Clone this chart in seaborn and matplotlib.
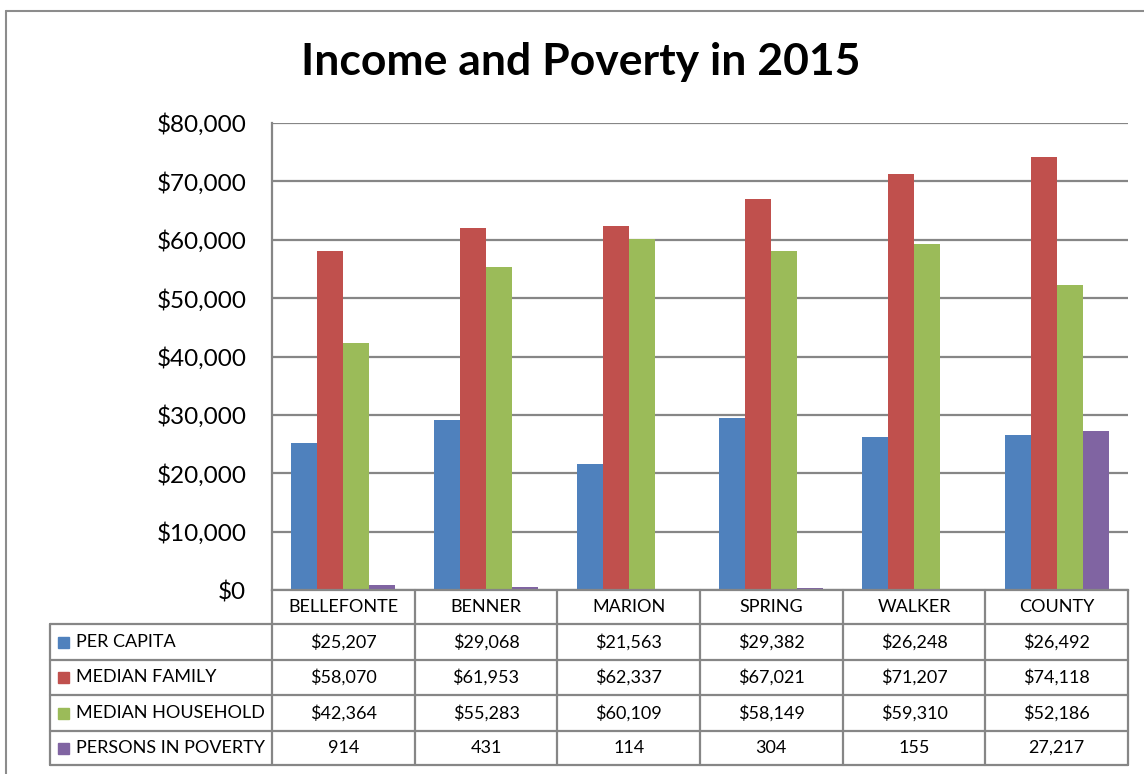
import matplotlib
matplotlib.use("Agg")
import matplotlib.pyplot as plt
from matplotlib.lines import Line2D
from matplotlib.patches import Rectangle
import matplotlib.transforms as mtransforms
from matplotlib.ticker import FuncFormatter, MultipleLocator
import seaborn as sns
import pandas as pd

categories = ["BELLEFONTE", "BENNER", "MARION", "SPRING", "WALKER", "COUNTY"]
series_names = ["PER CAPITA", "MEDIAN FAMILY", "MEDIAN HOUSEHOLD", "PERSONS IN POVERTY"]
per_capita = [25207, 29068, 21563, 29382, 26248, 26492]
median_family = [58070, 61953, 62337, 67021, 71207, 74118]
median_household = [42364, 55283, 60109, 58149, 59310, 52186]
persons_in_poverty = [914, 431, 114, 304, 155, 27217]
colors = ["#4F81BD", "#C0504D", "#9BBB59", "#8064A2"]
title = "Income and Poverty in 2015"

series_values = [per_capita, median_family, median_household, persons_in_poverty]
rows = []
for name, vals in zip(series_names, series_values):
    for c, v in zip(categories, vals):
        rows.append({"category": c, "series": name, "value": v})
df = pd.DataFrame(rows)

sns.set_theme(style="white")
plt.rcParams["font.family"] = ["Lato", "DejaVu Sans"]
plt.rcParams["text.color"] = "black"
plt.rcParams["ytick.color"] = "black"

W, H = 1144, 774
fig = plt.figure(figsize=(W / 100, H / 100), dpi=100)
fig.patch.set_facecolor("white")

def fx(px):
    return px / W

def fy(py):
    return 1 - py / H

left_px, right_px, top_px, bot_px = 272, 1128, 123, 590
ax = fig.add_axes([fx(left_px), fy(bot_px), fx(right_px) - fx(left_px), fy(top_px) - fy(bot_px)])

sns.barplot(data=df, x="category", y="value", hue="series", order=categories,
            hue_order=series_names, palette=colors, width=0.73, gap=0,
            saturation=1, ax=ax, legend=False, errorbar=None, linewidth=0)

gray = "#868686"
ax.set_xlim(-0.5, len(categories) - 0.5)
ax.set_ylim(0, 80000)
ax.yaxis.set_major_locator(MultipleLocator(10000))
ax.yaxis.set_major_formatter(FuncFormatter(lambda v, p: f"${v:,.0f}"))
ax.tick_params(axis="y", labelsize=17.5, labelcolor="black", length=0, pad=18.5)
ax.tick_params(axis="x", length=0, labelbottom=False)
ax.set_xlabel("")
ax.set_ylabel("")
ax.yaxis.grid(True, color=gray, linewidth=1.6)
ax.set_axisbelow(True)
for s in ["top", "right"]:
    ax.spines[s].set_visible(False)
for s in ["left", "bottom"]:
    ax.spines[s].set_color(gray)
    ax.spines[s].set_linewidth(1.6)

# Title
fig.text(fx(581), fy(62), title, ha="center", va="center", fontsize=32,
         fontweight="bold", color="black")

# Data table
plot_h = bot_px - top_px
def ay(py):
    return (bot_px - py) / plot_h

row_lines = [624, 660, 695, 731, 765]
trans_bx = mtransforms.blended_transform_factory(ax.transData, ax.transAxes)

lw = 1.6
tfs = 13
for i in range(len(categories) + 1):
    xb = i - 0.5
    ax.add_line(Line2D([xb, xb], [0, ay(765)], transform=trans_bx, color=gray, lw=lw, clip_on=False))
fig.add_artist(Line2D([fx(50), fx(50)], [fy(624), fy(765)], color=gray, lw=lw))
for r in row_lines:
    fig.add_artist(Line2D([fx(50), fx(right_px)], [fy(r), fy(r)], color=gray, lw=lw))

for i, c in enumerate(categories):
    ax.text(i, ay((590 + 624) / 2), c, transform=trans_bx, ha="center", va="center",
            fontsize=tfs, color="black")

for k, (name, vals, col) in enumerate(zip(series_names, series_values, colors)):
    yc = (row_lines[k] + row_lines[k + 1]) / 2
    fig.add_artist(Rectangle((fx(58), fy(yc + 5.5)), fx(11), fy(0) - fy(11), color=col,
                             transform=fig.transFigure))
    fig.text(fx(76), fy(yc), name, ha="left", va="center", fontsize=tfs, color="black")
    for i, v in enumerate(vals):
        label = f"{v:,}" if name == "PERSONS IN POVERTY" else f"${v:,}"
        ax.text(i, ay(yc), label, transform=trans_bx, ha="center", va="center",
                fontsize=tfs, color="black")

fig.add_artist(Line2D([fx(5.5), fx(5.5)], [fy(10.5), 0], color="#8c8c8c", lw=1.5))
fig.add_artist(Line2D([fx(5.5), 1], [fy(10.5), fy(10.5)], color="#8c8c8c", lw=1.5))

fig.savefig("out.png", dpi=100, facecolor="white")
